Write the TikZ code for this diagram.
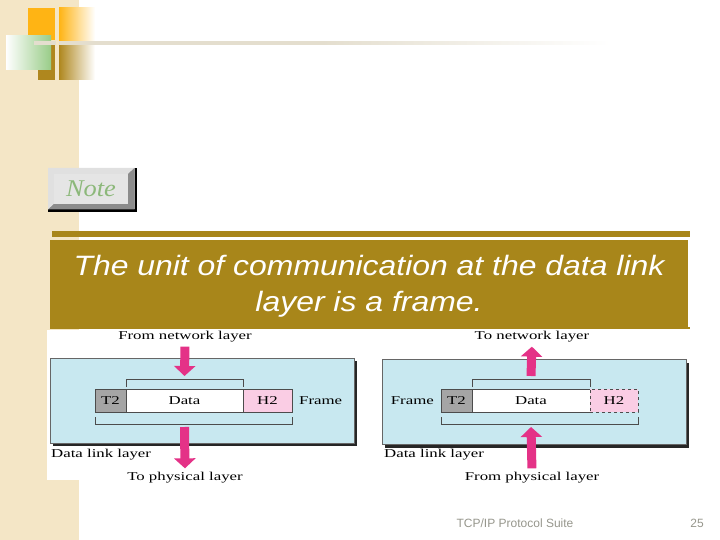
\documentclass[tikz,border=0pt]{standalone}
\usepackage{fontspec}
\usepackage{tikz}
\usetikzlibrary{arrows.meta,positioning,shadows}
\setmainfont{Liberation Serif}
\newfontfamily\figfont[FakeStretch=1.4]{Liberation Serif}
\newfontfamily\notefont[FakeStretch=1.1]{Liberation Serif}
\newfontfamily\titlefont[FakeStretch=1.14]{Liberation Sans}
\newfontfamily\slidesans{Liberation Sans}
\definecolor{stripCol}{RGB}{244,230,198}
\definecolor{goldCol}{RGB}{168,134,26}
\definecolor{orangeCol}{RGB}{255,180,20}
\definecolor{greenCol}{RGB}{135,195,115}
\definecolor{brownCol}{RGB}{175,135,30}
\definecolor{lineCol}{RGB}{228,222,206}
\definecolor{linkCol}{RGB}{200,232,240}
\definecolor{t2Col}{RGB}{165,165,165}
\definecolor{h2Col}{RGB}{250,205,228}
\definecolor{pinkCol}{RGB}{228,50,135}
\definecolor{noteCol}{RGB}{140,184,122}
\definecolor{footCol}{RGB}{150,150,140}
\tikzset{
  layerbox/.style={draw=black!60, fill=linkCol, line width=0.5pt,
                   minimum width=304pt, minimum height=85pt, inner sep=0pt,
                   drop shadow={shadow xshift=3pt, shadow yshift=-3pt,
                                opacity=1, fill=black!85}},
  field/.style={draw=black!70, line width=0.6pt, minimum height=23pt,
                inner sep=0pt, outer sep=0pt, font=\figfont\fontsize{12}{14}\selectfont},
  figlabel/.style={inner sep=1pt, font=\figfont\fontsize{12}{14}\selectfont},
  bracket/.style={draw=black!70, line width=0.6pt},
  pinkarrow/.style={-{Triangle[width=21pt,length=10pt]}, line width=9pt, pinkCol},
}
\begin{document}
\begin{tikzpicture}[x=1pt,y=-1pt]
  \useasboundingbox (0,0) rectangle (720,540);
  % slide background
  \fill[stripCol] (0,0) rectangle (79,540);
  \fill[orangeCol] (28,8) rectangle (55,40);
  \shade[left color=orangeCol, right color=white] (59,8) rectangle (95,41);
  \fill[brownCol] (38,44) rectangle (55,80);
  \shade[left color=brownCol, right color=white] (59,44) rectangle (95,80);
  \shade[shading angle=45, left color=white, right color=greenCol!85] (6,36) rectangle (51,70);
  \shade[left color=lineCol, right color=white, middle color=lineCol] (34,42) rectangle (610,44.5);
  \fill[stripCol] (56,0) rectangle (58.5,82);

  % note button
  \fill[black] (48,168) rectangle (137,212);
  \fill[black!30] (48,168) rectangle (134.5,209.5);
  \fill[black!12] (48,168) -- (134.5,168) -- (128,174) -- (54,174) -- (54,204) -- (48,209.5) -- cycle;
  \fill[black!45] (134.5,168) -- (134.5,209.5) -- (48,209.5) -- (54,204) -- (128,204) -- (128,174) -- cycle;
  \node[fill=black!10, minimum width=74pt, minimum height=30pt, inner sep=0pt,
        font=\notefont\fontsize{24}{26}\selectfont\itshape, text=noteCol] (note) at (91,189) {Note};

  % title box
  \fill[goldCol] (52,231) rectangle (690,237);
  \fill[goldCol] (50,240) rectangle (688,327);
  \node[align=center, text=white, font=\titlefont\itshape\fontsize{28}{36}\selectfont]
    (title) at (369,286) {The unit of communication at the data link\\layer is a frame.};
  \fill[goldCol] (50,327) rectangle (690,329);

  % figure backgrounds
  \fill[white] (47,329.5) rectangle (366,480);
  \fill[white] (376,329.5) rectangle (692,486);

  % sender side
  \node[layerbox] (linka) at (202,400.5) {};
  \node[field, fill=t2Col, minimum width=31pt] (t2a) at (110.5,400.5) {T2};
  \node[field, fill=white, minimum width=117pt, right=0pt of t2a] (dataa) {Data};
  \node[field, fill=h2Col, minimum width=49pt, right=0pt of dataa] (h2a) {H2};
  \node[figlabel, right=6pt of h2a] (framea) {Frame};
  \node[figlabel] (fromnet) at (185,337) {From network layer};
  \node[figlabel] (tophys) at (185,478) {To physical layer};
  \node[figlabel, anchor=west] (dlla) at (50,455) {Data link layer};
  \draw[bracket] ([yshift=2pt]dataa.north west) -- ++(0,-8) -| ([yshift=2pt]dataa.north east);
  \draw[bracket] ([yshift=-5pt]t2a.south west) -- ++(0,7) -| ([yshift=-5pt]h2a.south east);
  \draw[pinkarrow, shorten <=3pt] (fromnet.south) -- ([yshift=13pt]dataa.north);
  \draw[pinkarrow, shorten >=3pt] ([yshift=-15pt]dataa.south) -- (tophys.north);

  % receiver side
  \node[layerbox] (linkb) at (534,402) {};
  \node[field, fill=t2Col, minimum width=31pt] (t2b) at (456.5,400.5) {T2};
  \node[field, fill=white, minimum width=118pt, right=0pt of t2b] (datab) {Data};
  \node[field, fill=h2Col, dashed, minimum width=48pt, right=0pt of datab] (h2b) {H2};
  \node[figlabel, left=6pt of t2b] (frameb) {Frame};
  \node[figlabel] (tonet) at (532,337) {To network layer};
  \node[figlabel] (fromphys) at (532,478) {From physical layer};
  \node[figlabel, anchor=west] (dllb) at (383,455) {Data link layer};
  \draw[bracket] ([yshift=2pt]datab.north west) -- ++(0,-8) -| ([yshift=2pt]datab.north east);
  \draw[bracket] ([yshift=-5pt]t2b.south west) -- ++(0,7) -| ([yshift=-5pt]h2b.south east);
  \draw[pinkarrow, shorten >=3pt] ([yshift=13pt]datab.north) -- (tonet.south);
  \draw[pinkarrow, shorten <=3pt] (fromphys.north) -- ([yshift=-15pt]datab.south);

  % footer
  \node[font=\slidesans\fontsize{12}{14}\selectfont, text=footCol] (suite) at (515,523) {TCP/IP Protocol Suite};
  \node[font=\slidesans\fontsize{12}{14}\selectfont, text=footCol] (page) at (697,523) {25};
\end{tikzpicture}
\end{document}
